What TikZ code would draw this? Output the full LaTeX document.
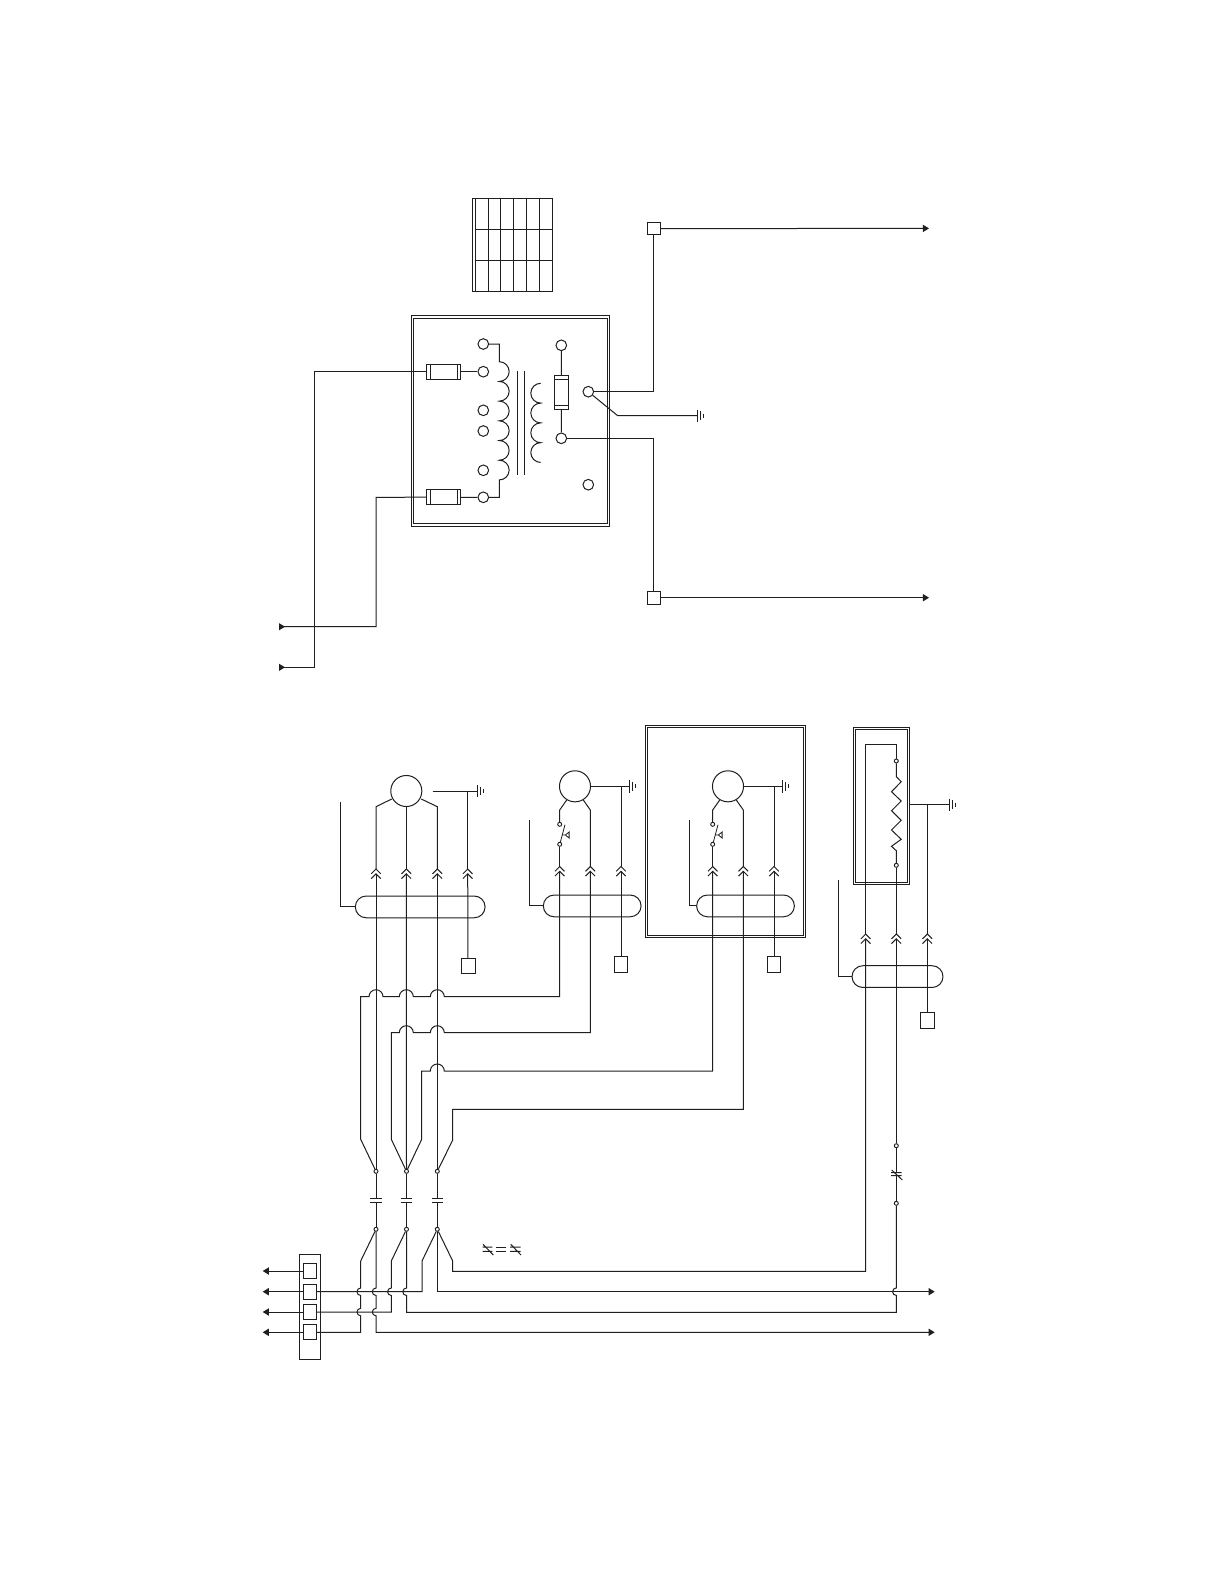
\documentclass[tikz,border=0pt]{standalone}
\usetikzlibrary{arrows.meta}
\tikzset{
  wire/.style={line width=0.75pt,line join=miter,color=black!88},
  term/.style={circle,draw=black!88,line width=0.75pt,fill=white,minimum size=8pt,inner sep=0pt},
  pin/.style={circle,draw=black!88,line width=0.7pt,fill=white,minimum size=3pt,inner sep=0pt},
  motor/.style={circle,draw=black!88,line width=0.75pt,minimum size=23.3pt,inner sep=0pt},
  sqbox/.style={rectangle,draw=black!88,line width=0.75pt,fill=white,inner sep=0pt},
  arr/.style={wire,-{Triangle[length=4.6pt,width=5.4pt]}}
}
\newcommand{\chevup}[2]{\draw[wire,shift={(#1,#2)}] (-4.8,4.8) -- (0,0) -- (4.8,4.8) (-4.8,9.6) -- (0,4.8) -- (4.8,9.6);}
\newcommand{\gnd}[2]{\draw[wire,shift={(#1,#2)}] (0,-6.2) -- (0,6.2) (3.2,-4.3) -- (3.2,4.3) (6,-2) -- (6,2);}
\newcommand{\capa}[1]{\draw[wire,shift={(#1,1200.3)}] (-5.8,-2) -- (5.8,-2) (-5.8,2) -- (5.8,2);}
\newcommand{\inarrow}[2]{\fill[black!88,shift={(#1,#2)}] (0,-3.6) -- (6,0) -- (0,3.6) -- cycle;}
\newcommand{\vhop}{arc[start angle=90,end angle=270,radius=2.8pt]}
\newcommand{\hhopL}{arc[start angle=0,end angle=180,radius=5.25pt]}
\newcommand{\pushsw}[1]{\draw[shift={(#1,0)},line width=0.6pt,color=black!88] (0.6,842.3) -- (5.3,824.7) (3,835) -- (5.6,835) (5.6,835) -- (9.4,832) -- (9.4,838) -- cycle;}
\begin{document}
\begin{tikzpicture}[x=0.75pt,y=-0.75pt]
\useasboundingbox (0,0) rectangle (1225,1585);
\fill[white] (0,0) rectangle (1225,1585);

% ---------- table grid
\draw[wire] (472.3,198.3) rectangle (552.7,291.3);
\draw[wire] (475.3,198.3) -- (475.3,291.3);
\foreach \gx in {488.7,500.7,513.3,526.7,539.7} \draw[wire] (\gx,198.3) -- (\gx,291.3);
\foreach \gy in {229.3,260.3} \draw[wire] (475.3,\gy) -- (552.7,\gy);

% ---------- transformer enclosure
\draw[wire] (411.3,315.7) rectangle (609.3,526);
\draw[wire] (413.8,318) rectangle (607,523.7);

\node[term] (tl1) at (483.3,344) {};
\node[term] (tl2) at (483.3,371.7) {};
\node[term] (tl3) at (483.3,410.3) {};
\node[term] (tl4) at (483.3,431) {};
\node[term] (tl5) at (483.3,470.3) {};
\node[term] (tl6) at (483.3,497.3) {};
\node[term] (tr1) at (561.3,345.3) {};
\node[term] (tr2) at (588.3,391.7) {};
\node[term] (tr3) at (561.3,438.3) {};
\node[term] (tr4) at (588.3,484.7) {};

% primary coil
\draw[wire] (tl1) -- (499.3,344) -- (499.3,361.7)
  arc[start angle=90,end angle=-90,radius=7.39pt]
  arc[start angle=90,end angle=-90,radius=7.39pt]
  arc[start angle=90,end angle=-90,radius=7.39pt]
  arc[start angle=90,end angle=-90,radius=7.39pt]
  arc[start angle=90,end angle=-90,radius=7.39pt]
  arc[start angle=90,end angle=-90,radius=7.39pt]
  -- (499.3,497.3) -- (tl6);
% core
\draw[wire] (517.3,370.7) -- (517.3,475.3) (524.3,370.7) -- (524.3,475.3);
% secondary coil
\draw[wire] (540.7,383.3)
  arc[start angle=90,end angle=270,radius=7.42pt]
  arc[start angle=90,end angle=270,radius=7.42pt]
  arc[start angle=90,end angle=270,radius=7.42pt]
  arc[start angle=90,end angle=270,radius=7.42pt];

% fuses
\node[sqbox,minimum width=25.8pt,minimum height=11.4pt] (fu1) at (443.5,371.7) {};
\node[sqbox,minimum width=25.8pt,minimum height=11.4pt] (fu2) at (443.5,497.2) {};
\node[sqbox,minimum width=11pt,minimum height=25.2pt] (fu3) at (561.6,392.2) {};
\draw[wire] (430,364) -- (430,379.4) (457.3,364) -- (457.3,379.4);
\draw[wire] (430,489.6) -- (430,504.8) (457.3,489.6) -- (457.3,504.8);
\draw[wire] (554.3,379) -- (569,379) (554.3,405.3) -- (569,405.3);
\draw[wire] (fu1) -- (tl2);
\draw[wire] (fu2) -- (tl6);
\draw[wire] (tr1) -- (fu3);
\draw[wire] (fu3) -- (tr3);

% input wires
\coordinate (inA) at (279,626.7);
\coordinate (inB) at (279,667.3);
\draw[wire] (fu1.west) -- (314.7,371.7) -- (314.7,667.3) -- (inB);
\draw[wire] (fu2.west) -- (376,497.3) -- (376,626.7) -- (inA);
\inarrow{279}{626.7}
\inarrow{279}{667.3}

% output wires
\node[sqbox,minimum size=9.5pt] (sqA) at (653.7,228.6) {};
\node[sqbox,minimum size=9.5pt] (sqB) at (653.7,597.7) {};
\coordinate (outA) at (929,228.4);
\coordinate (outB) at (929,597.7);
\draw[wire] (tr2) -- (653.7,391.7) -- (sqA);
\draw[wire] (tr3) -- (653.7,438.3) -- (sqB);
\draw[arr] (sqA) -- (outA);
\draw[arr] (sqB) -- (outB);
\coordinate (gndT) at (697,415.7);
\draw[wire] (tr2) -- (617.7,415.7) -- (gndT);
\gnd{697}{415.7}

% ---------- motor group 1
\node[motor] (m1) at (406.3,791) {};
\draw[wire] (391.7,799) -- (376,806.7) -- (376,869);
\draw[wire] (421.3,799) -- (437.3,806.7) -- (437.3,869);
\draw[wire] (m1) -- (406.3,869);
\chevup{376}{869}
\chevup{406.3}{869}
\chevup{437.3}{869}
\chevup{467.7}{869}
\node[sqbox,minimum width=10.5pt,minimum height=11.6pt] (sq1) at (468,966) {};
\coordinate (g1) at (477,791);
\draw[wire] (432.7,791) -- (g1);
\gnd{477}{791}
\draw[wire] (467.7,791) -- (467.7,869);
\draw[wire] (467.7,873.8) -- (sq1);
\node[draw=black!88,line width=0.75pt,rounded corners=8.1pt,minimum width=97.3pt,minimum height=16.3pt,inner sep=0pt] (cab1) at (420.2,906.9) {};
\draw[wire] (cab1.west) -- (340.7,906.9) -- (340.7,802.3);

% ---------- motor group 2
\node[motor] (m2) at (575,786.3) {};
\draw[wire] (m2) -- (621,786.3) -- (629.7,786.3);
\gnd{629.7}{786.3}
\draw[wire] (621,786.3) -- (621,866.5);
\node[sqbox,minimum width=10pt,minimum height=11.6pt] (sq2) at (621,964.7) {};
\draw[wire] (621,871.3) -- (sq2);
\node[pin] (s2a) at (559.7,824.3) {};
\node[pin] (s2b) at (559.7,844.3) {};
\draw[wire] (566.7,800) -- (559.7,810) -- (s2a);
\draw[wire] (583.3,800) -- (590.3,810) -- (590.3,866.5);
\pushsw{559.7}
\draw[wire] (s2b) -- (559.7,866.5);
\chevup{559.7}{866.5}
\chevup{590.3}{866.5}
\chevup{621}{866.5}
\node[draw=black!88,line width=0.75pt,rounded corners=8.1pt,minimum width=73.3pt,minimum height=16.3pt,inner sep=0pt] (cab2) at (592.2,905.9) {};
\draw[wire] (cab2.west) -- (529.3,905.9) -- (529.3,819.7);

% ---------- motor group 3
\draw[wire] (645.3,725.3) rectangle (805.7,937.3);
\draw[wire] (647.2,727.2) rectangle (803.8,935.5);
\node[motor] (m3) at (728,786.3) {};
\draw[wire] (m3) -- (782.7,786.3);
\gnd{782.7}{786.3}
\draw[wire] (774,786.3) -- (774,866.5);
\node[sqbox,minimum width=10pt,minimum height=11.6pt] (sq3) at (774,964.7) {};
\draw[wire] (774,871.3) -- (sq3);
\node[pin] (s3a) at (712.7,824.3) {};
\node[pin] (s3b) at (712.7,844.3) {};
\draw[wire] (719.7,800) -- (712.7,810) -- (s3a);
\draw[wire] (736.3,800) -- (743.3,810) -- (743.3,866.5);
\pushsw{712.7}
\draw[wire] (s3b) -- (712.7,866.5);
\chevup{712.7}{866.5}
\chevup{743.3}{866.5}
\chevup{774}{866.5}
\node[draw=black!88,line width=0.75pt,rounded corners=8.1pt,minimum width=73.3pt,minimum height=16.3pt,inner sep=0pt] (cab3) at (745.5,905.9) {};
\draw[wire] (cab3.west) -- (689.3,905.9) -- (689.3,819.7);

% ---------- heater group 4
\draw[wire] (853.3,727.3) rectangle (909.7,884.7);
\draw[wire] (855.4,729.4) rectangle (907.6,882.6);
\node[pin] (r1) at (896.3,761) {};
\node[pin] (r2) at (896.3,865.3) {};
\draw[wire] (r1) -- (896.3,776.7) -- (901.2,781.7) -- (891.5,791.7) -- (901.2,801) -- (891.5,810.7)
  -- (901.2,820.3) -- (891.5,830) -- (901.2,839.3) -- (891.5,846.3) -- (896.3,850.7) -- (r2);
\draw[wire] (r2) -- (896.3,934);
\draw[wire] (865.7,934) -- (865.7,744.3) -- (896.3,744.3) -- (r1);
\chevup{865.7}{934}
\chevup{896.3}{934}
\chevup{927.3}{934}
\coordinate (g4) at (949.3,804.7);
\draw[wire] (909.7,804.7) -- (g4);
\gnd{949.3}{804.7}
\draw[wire] (927.3,804.7) -- (927.3,934);
\node[sqbox,minimum width=10.5pt,minimum height=11.6pt] (sq4) at (927.3,1020.4) {};
\draw[wire] (927.3,938.8) -- (sq4);
\node[draw=black!88,line width=0.75pt,rounded corners=8.1pt,minimum width=68.2pt,minimum height=16.3pt,inner sep=0pt] (cab4) at (897.5,976.6) {};
\draw[wire] (cab4.west) -- (838,976.6) -- (838,880.3);

% ---------- contactor pins
\node[pin] (p1t) at (376,1171.3) {};
\node[pin] (p2t) at (406.5,1171.3) {};
\node[pin] (p3t) at (437.3,1171.3) {};
\node[pin] (p1b) at (376,1229.3) {};
\node[pin] (p2b) at (406.5,1229.3) {};
\node[pin] (p3b) at (437.3,1229.3) {};
\capa{376}
\capa{406.5}
\capa{437.3}
\draw[wire] (p1t) -- (376,1198.3) (376,1202.3) -- (p1b);
\draw[wire] (p2t) -- (406.5,1198.3) (406.5,1202.3) -- (p2b);
\draw[wire] (p3t) -- (437.3,1198.3) (437.3,1202.3) -- (p3b);

% straight feeders down from motor 1
\draw[wire] (376,873.8) -- (p1t);
\draw[wire] (406.3,873.8) -- (p2t);
\draw[wire] (437.3,873.8) -- (p3t);

% feeders with hops
\draw[wire] (559.7,871.3) -- (559.7,996.7) -- (444.3,996.7) \hhopL -- (413.3,996.7) \hhopL -- (383,996.7) \hhopL
  -- (360.7,996.7) -- (360.7,1139.3) -- (p1t);
\draw[wire] (590.3,871.3) -- (590.3,1032.7) -- (444.3,1032.7) \hhopL -- (413.3,1032.7) \hhopL
  -- (391.3,1032.7) -- (391.3,1139.3) -- (p2t);
\draw[wire] (712.7,871.3) -- (712.7,1071) -- (444.3,1071) \hhopL -- (421.7,1071) -- (421.7,1139.3) -- (p2t);
\draw[wire] (743.3,871.3) -- (743.3,1109.3) -- (452.7,1109.3) -- (452.7,1140) -- (p3t);

% terminal block
\node[draw=black!88,line width=0.75pt,minimum width=16.3pt,minimum height=78.5pt,inner sep=0pt] (blk) at (309.9,1306.7) {};
\node[sqbox,minimum width=10.2pt,minimum height=11pt] (b1) at (309.9,1271) {};
\node[sqbox,minimum width=10.2pt,minimum height=11pt] (b2) at (309.9,1291.7) {};
\node[sqbox,minimum width=10.2pt,minimum height=11pt] (b3) at (309.9,1312) {};
\node[sqbox,minimum width=10.2pt,minimum height=11pt] (b4) at (309.9,1332.3) {};
\coordinate (l1) at (262.7,1271);
\coordinate (l2) at (262.7,1291.7);
\coordinate (l3) at (262.7,1312);
\coordinate (l4) at (262.7,1332.3);
\draw[arr] (b1) -- (l1);
\draw[arr] (b2) -- (l2);
\draw[arr] (b3) -- (l3);
\draw[arr] (b4) -- (l4);

% lower bus
\draw[wire] (p1b) -- (360.7,1261) -- (360.7,1288) \vhop -- (360.7,1308.3) \vhop -- (360.7,1332.3) -- (b4);
\coordinate (outC) at (934.7,1332.3);
\draw[arr] (p1b) -- (376,1288) \vhop -- (376,1308.3) \vhop -- (376,1332.3) -- (outC);
\draw[wire] (p2b) -- (391.3,1261) -- (391.3,1288) \vhop -- (391.3,1312) -- (b3);
\node[pin] (nc1) at (896.3,1145.7) {};
\node[pin] (nc2) at (896.3,1203.3) {};
\draw[wire] (p2b) -- (406.5,1288) \vhop -- (406.5,1312.3) -- (896.3,1312.3) -- (896.3,1295.4)
  arc[start angle=270,end angle=90,radius=2.8pt] -- (nc2);
\draw[wire] (p3b) -- (422,1261) -- (422,1291.7) -- (b2);
\coordinate (outD) at (934.7,1291.7);
\draw[arr] (p3b) -- (437.3,1291.7) -- (outD);
\draw[wire] (p3b) -- (452.7,1261) -- (452.7,1271.3) -- (865.7,1271.3) -- (865.7,938.8);

% heater feeder with NC contact
\draw[wire] (896.3,938.8) -- (nc1);
\draw[wire] (nc1) -- (896.3,1172.7) (896.3,1175.7) -- (nc2);
\draw[wire] (891,1172.7) -- (901.7,1172.7) (891,1175.7) -- (901.7,1175.7) (891.7,1170) -- (902.3,1180);

% interlock symbol
\draw[wire] (482.7,1247) -- (492.3,1247) (482.7,1251.3) -- (492.3,1251.3) (483,1244.3) -- (493.3,1255);
\draw[wire] (495.7,1247) -- (506,1247) (495.7,1251.3) -- (506,1251.3);
\draw[wire] (510,1247) -- (520.5,1247) (510,1251.3) -- (520.5,1251.3) (510.7,1244.3) -- (521,1255);
\end{tikzpicture}
\end{document}
